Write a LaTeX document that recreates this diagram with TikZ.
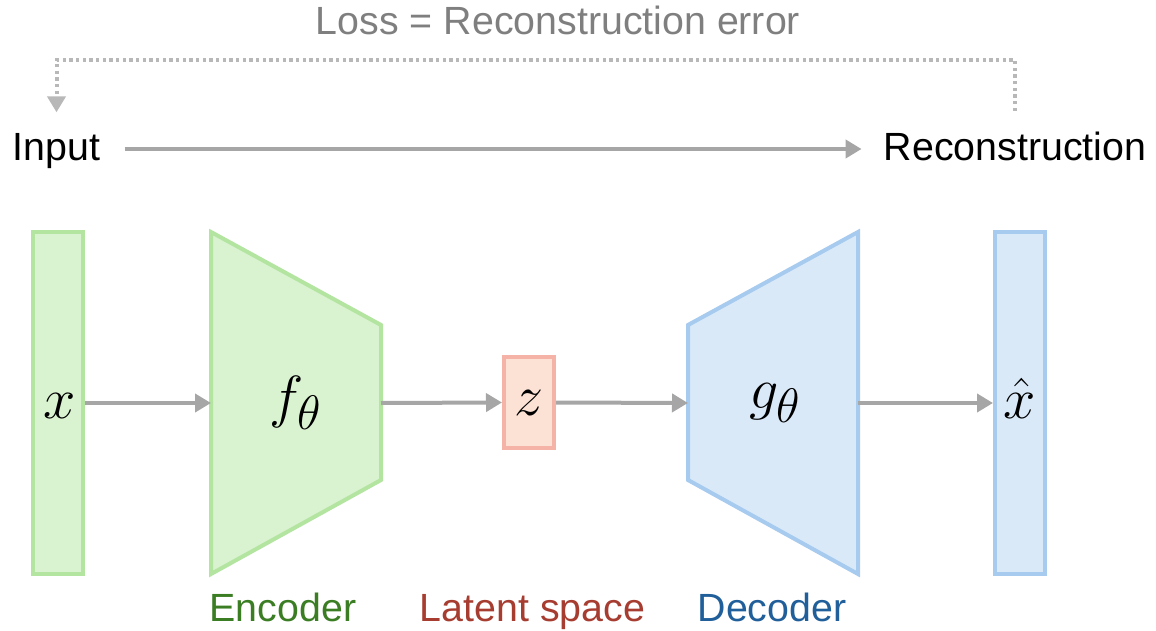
\documentclass[tikz,border=0pt]{standalone}
\usepackage{fontspec}
\setmainfont{Liberation Sans}
\usepackage{tikz}
\usetikzlibrary{arrows.meta,calc}
\definecolor{grnfill}{HTML}{D9F2D0}
\definecolor{grnline}{HTML}{B3E5A1}
\definecolor{redfill}{HTML}{FBE2D5}
\definecolor{redline}{HTML}{F4B3A6}
\definecolor{blufill}{HTML}{DAE9F8}
\definecolor{bluline}{HTML}{A6CBEE}
\definecolor{enctxt}{HTML}{3B7D23}
\definecolor{lattxt}{HTML}{A63D30}
\definecolor{dectxt}{HTML}{215F9A}
\definecolor{losstxt}{HTML}{7F7F7F}
\definecolor{arrgray}{HTML}{A6A6A6}
\definecolor{dotgray}{HTML}{B8B8B8}

\begin{document}
\begin{tikzpicture}[
  x=0.75pt, y=-0.75pt,
  lbl/.style={font=\fontsize{29.5}{34}\selectfont, inner sep=0pt, anchor=base},
  sym/.style={font=\Huge, scale=1.75, inner sep=0pt},
  bar/.style={draw, line width=3pt, minimum width=37.5pt, minimum height=256.5pt, inner sep=0pt},
  latent/.style={draw=redline, fill=redfill, line width=3pt, minimum width=37.5pt, minimum height=68.25pt, inner sep=0pt},
  trap/.style={line width=3pt, line join=miter},
  arr/.style={-{Triangle[length=12pt, width=13.5pt]}, line width=3pt, draw=arrgray},
  fb/.style={arr, draw=dotgray, dash pattern=on 2.5pt off 2.5pt, shorten <=16pt, shorten >=16pt}
]
\useasboundingbox (0,0) rectangle (1156,631);
\node[lbl, text=losstxt] (loss) at (558,35) {Loss = Reconstruction error};
\node[lbl] (input) at (56.5,161) {Input};
\node[lbl] (recon) at (1015,161) {Reconstruction};
\coordinate (lossline) at (558,60);
\draw[fb] (recon.north) -- (recon.north |- lossline) -| (input.north);
\draw[arr, shorten <=18pt, shorten >=16.5pt] ([yshift=9pt]input.base east) -- ([yshift=9pt]recon.base west);

\node[bar, draw=grnline, fill=grnfill] (inbar) at (58,403) {};
\node[sym] (xin) at (60,406) {$x$};
\filldraw[trap, fill=grnfill, draw=grnline] (211,232) -- (381,325) -- (381,480) -- (211,574) -- cycle;
\node[sym] (enc) at (296,403) {$f_\theta$};
\coordinate (encin) at (211,403);
\coordinate (encout) at (381,403);
\node[latent] (z) at (529,402.5) {};
\node[sym] (zlbl) at (z) {$z$};
\filldraw[trap, fill=blufill, draw=bluline] (688,325) -- (858,232) -- (858,574) -- (688,480) -- cycle;
\node[sym] (dec) at (775,403) {$g_\theta$};
\coordinate (decin) at (688,403);
\coordinate (decout) at (858,403);
\node[bar, draw=bluline, fill=blufill] (outbar) at (1020,403) {};
\node[sym] (xout) at (1020,398) {$\hat{x}$};
\foreach \a/\b in {inbar.east/encin, encout/z.west, z.east/decin, decout/outbar.west}
  \draw[arr] (\a) -- (\b);

\node[lbl, text=enctxt] (enclbl) at (283,621) {Encoder};
\node[lbl, text=lattxt] (latlbl) at (532.5,621) {Latent space};
\node[lbl, text=dectxt] (declbl) at (772,621) {Decoder};
\end{tikzpicture}
\end{document}
